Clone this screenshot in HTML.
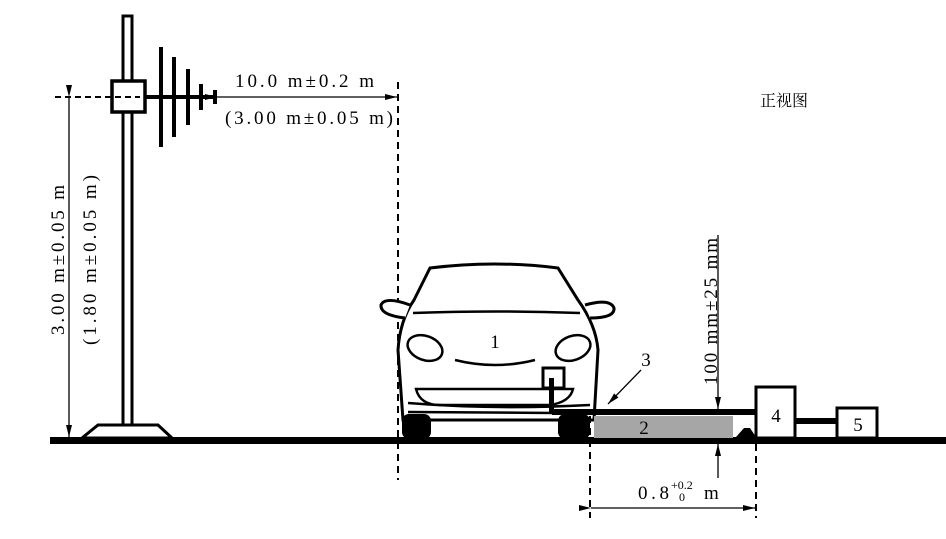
<!DOCTYPE html>
<html><head><meta charset="utf-8"><style>
html,body{margin:0;padding:0;background:#fff;}
svg{display:block;}
text{font-family:"Liberation Serif","Noto Serif CJK SC",serif;fill:#000;}
</style></head><body>
<svg width="946" height="539" viewBox="0 0 946 539" xmlns="http://www.w3.org/2000/svg">
<defs>
<marker id="a" markerWidth="12" markerHeight="8" refX="12" refY="4" orient="auto" markerUnits="userSpaceOnUse"><path d="M0,1 L12,4 L0,7 Z" fill="#000"/></marker>
</defs>
<rect x="50" y="437" width="896" height="7" fill="#000"/>
<rect x="123" y="16" width="9" height="409" fill="#fff" stroke="#000" stroke-width="3"/>
<path d="M82,438 L98,425 L158,425 L172,438 Z" fill="#fff" stroke="#000" stroke-width="3"/>
<rect x="112" y="81" width="33" height="31" fill="#fff" stroke="#000" stroke-width="3.5"/>
<line x1="55" y1="97" x2="140" y2="97" stroke="#000" stroke-width="2" stroke-dasharray="6,4"/>
<line x1="145" y1="97" x2="215" y2="97" stroke="#000" stroke-width="4"/>
<rect x="159" y="47" width="4" height="100" fill="#000"/>
<rect x="172" y="57" width="4" height="80" fill="#000"/>
<rect x="186" y="69" width="4" height="56" fill="#000"/>
<rect x="199" y="84" width="4" height="26" fill="#000"/>
<rect x="213" y="90" width="4" height="14" fill="#000"/>
<line x1="217" y1="97" x2="397" y2="97" stroke="#000" stroke-width="1.3" marker-start="url(#a)" marker-end="url(#a)"/>
<line x1="398" y1="82" x2="398" y2="480" stroke="#000" stroke-width="2" stroke-dasharray="7,5"/>
<line x1="69" y1="97" x2="69" y2="437" stroke="#000" stroke-width="1.3" marker-start="url(#a)" marker-end="url(#a)"/>
<text x="235" y="87" font-size="19" textLength="139" lengthAdjust="spacing">10.0 m±0.2 m</text>
<text x="225" y="124" font-size="19" textLength="168" lengthAdjust="spacing">(3.00 m±0.05 m)</text>
<text transform="translate(64,335) rotate(-90)" font-size="19" textLength="150" lengthAdjust="spacing">3.00 m±0.05 m</text>
<text transform="translate(96,345) rotate(-90)" font-size="19" textLength="170" lengthAdjust="spacing">(1.80 m±0.05 m)</text>
<text x="760" y="106" font-size="16" font-family="Noto Sans CJK SC, sans-serif">正视图</text>
<g fill="none" stroke="#000" stroke-width="3">
<path d="M403,420 L398,350 Q400,320 414,300 L430,268 Q495,260 558,268 L578,300 Q596,325 598,350 L594,420 Z" fill="#fff"/>
<path d="M405,318 Q380,315 381,305 Q385,296 410,305" fill="#fff"/>
<path d="M590,318 Q615,318 614,308 Q610,298 585,305" fill="#fff"/>
<path d="M413,313 Q495,310 580,313" stroke-width="2.5"/>
<ellipse cx="425" cy="348" rx="18" ry="12" transform="rotate(20 425 348)" stroke-width="2.5"/>
<ellipse cx="573" cy="348" rx="18" ry="12" transform="rotate(-20 573 348)" stroke-width="2.5"/>
<path d="M455,360 Q495,370 535,360" stroke-width="2.5"/>
<path d="M416,389 Q420,405 440,405 L550,405 Q570,402 573,389 Z" stroke-width="2.5"/>
<path d="M408,403 Q495,410 590,405" stroke-width="2.5"/>
<path d="M408,412 L555,413" stroke-width="2.5"/>
</g>
<rect x="402" y="414" width="29" height="25" rx="7" fill="#000"/>
<rect x="558" y="414" width="32" height="25" rx="7" fill="#000"/>
<rect x="543" y="368" width="21" height="20" fill="#fff" stroke="#000" stroke-width="3"/>
<rect x="549" y="378" width="5" height="35" fill="#000"/>
<text x="495" y="348" font-size="19" text-anchor="middle">1</text>
<rect x="594" y="416" width="139" height="22" fill="#a6a6a6"/>
<rect x="552" y="409" width="204" height="6" fill="#000"/>
<path d="M736,437 L744,428 L750,428 L756,437 Z" fill="#000"/>
<rect x="756" y="387" width="39" height="51" fill="#fff" stroke="#000" stroke-width="3"/>
<rect x="795" y="418" width="42" height="6" fill="#000"/>
<rect x="837" y="408" width="40" height="30" fill="#fff" stroke="#000" stroke-width="3"/>
<text x="644" y="434" font-size="19" text-anchor="middle">2</text>
<text x="776" y="422" font-size="19" text-anchor="middle">4</text>
<text x="858" y="431" font-size="19" text-anchor="middle">5</text>
<text x="646" y="366" font-size="19" text-anchor="middle">3</text>
<line x1="641" y1="370" x2="608" y2="404" stroke="#000" stroke-width="1.3" marker-end="url(#a)"/>
<line x1="718" y1="235" x2="718" y2="409" stroke="#000" stroke-width="1.3" marker-end="url(#a)"/>
<line x1="718" y1="478" x2="718" y2="444" stroke="#000" stroke-width="1.3" marker-end="url(#a)"/>
<text transform="translate(717,385) rotate(-90)" font-size="19" textLength="147" lengthAdjust="spacing">100 mm±25 mm</text>
<line x1="590" y1="416" x2="590" y2="518" stroke="#000" stroke-width="2" stroke-dasharray="7,5"/>
<line x1="756" y1="444" x2="756" y2="518" stroke="#000" stroke-width="2" stroke-dasharray="7,5"/>
<line x1="591" y1="508" x2="755" y2="508" stroke="#000" stroke-width="1.3" marker-start="url(#a)" marker-end="url(#a)"/>
<text x="638" y="499" font-size="19" textLength="31" lengthAdjust="spacing">0.8</text>
<text x="671" y="489" font-size="12">+0.2</text>
<text x="679" y="501" font-size="12">0</text>
<text x="704" y="499" font-size="19">m</text>
</svg>
</body></html>
